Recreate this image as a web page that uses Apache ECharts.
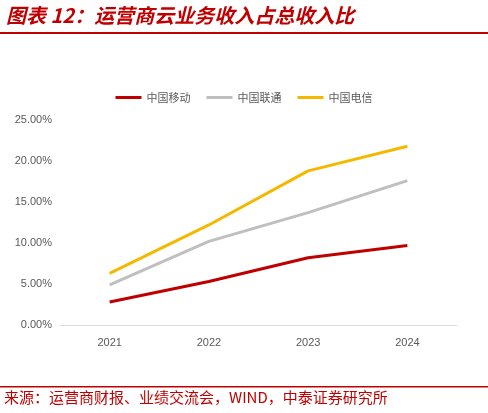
<!DOCTYPE html>
<html><head><meta charset="utf-8">
<script src="https://cdn.jsdelivr.net/npm/echarts@6/dist/echarts.min.js"></script>
<style>body{margin:0;background:#fff}#c{width:488px;height:413px}</style>
</head><body><div id="c"></div>
<script>
const years = ['2021', '2022', '2023', '2024'];
const mobile = [2.8, 5.3, 8.2, 9.7];
const unicom = [4.9, 10.2, 13.7, 17.6];
const telecom = [6.3, 12.2, 18.8, 21.8];

let chart = echarts.init(document.getElementById('c'));
const line = (name, data, color) => ({
  name: name, type: 'line', data: data, symbol: 'none',
  lineStyle: {color: color, width: 3}, itemStyle: {color: color}
});
chart.setOption({
  animation: false,
  graphic: [
    {type: 'text', left: 6, top: 5, style: {text: '图表 12：运营商云业务收入占总收入比', fill: '#c00000', font: 'italic bold 20px "Noto Sans CJK SC"'}},
    {type: 'rect', shape: {x: 0, y: 32, width: 488, height: 2}, style: {fill: '#c00000'}},
    {type: 'rect', shape: {x: 0, y: 386, width: 488, height: 1.5}, style: {fill: '#c00000'}},
    {type: 'text', left: 4, top: 390, style: {text: '来源：运营商财报、业绩交流会，WIND，中泰证券研究所', fill: '#c00000', font: '15px "Noto Sans CJK SC"'}}
  ],
  legend: {
    top: 87, left: 'center', itemWidth: 26, itemHeight: 3, itemGap: 16,
    icon: 'rect',
    textStyle: {color: '#595959', fontSize: 11, fontFamily: 'Noto Sans CJK SC'},
    data: ['中国移动', '中国联通', '中国电信']
  },
  grid: {left: 60, right: 31, top: 120, bottom: 88},
  xAxis: {
    type: 'category', data: years,
    axisLine: {lineStyle: {color: '#d9d9d9'}}, axisTick: {show: false},
    axisLabel: {color: '#595959', fontSize: 11, margin: 12}
  },
  yAxis: {
    type: 'value', min: 0, max: 25, interval: 5,
    axisLabel: {color: '#595959', fontSize: 11, formatter: v => v.toFixed(2) + '%'},
    splitLine: {show: false}, axisLine: {show: false}
  },
  series: [
    line('中国移动', mobile, '#c00000'),
    line('中国联通', unicom, '#bfbfbf'),
    line('中国电信', telecom, '#f5b800')
  ]
});
</script></body></html>
